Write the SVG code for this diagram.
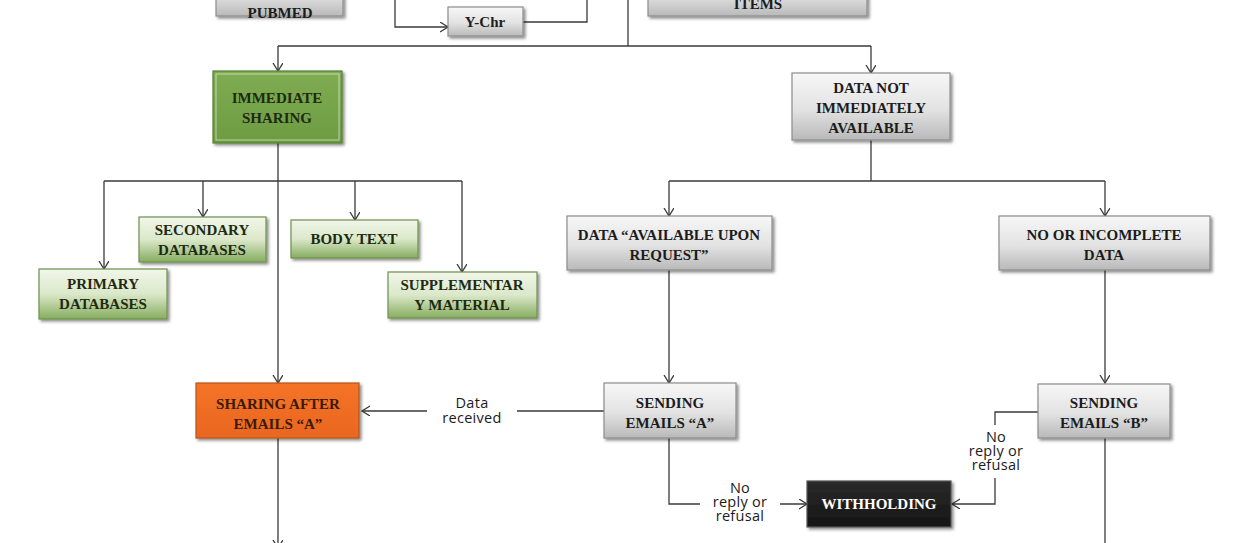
<svg xmlns="http://www.w3.org/2000/svg" width="1240" height="543" viewBox="0 0 1240 543">
<defs>
  <linearGradient id="gGray" x1="0" y1="0" x2="0" y2="1">
    <stop offset="0" stop-color="#f7f7f7"/>
    <stop offset="0.55" stop-color="#e2e2e2"/>
    <stop offset="1" stop-color="#b9b9b9"/>
  </linearGradient>
  <linearGradient id="gLightGreen" x1="0" y1="0" x2="0" y2="1">
    <stop offset="0" stop-color="#f1f6ea"/>
    <stop offset="0.5" stop-color="#dbe8ca"/>
    <stop offset="1" stop-color="#86ad5e"/>
  </linearGradient>
  <linearGradient id="gGreen" x1="0" y1="0" x2="0" y2="1">
    <stop offset="0" stop-color="#80ad52"/>
    <stop offset="1" stop-color="#6d9b42"/>
  </linearGradient>
  <linearGradient id="gOrange" x1="0" y1="0" x2="0" y2="1">
    <stop offset="0" stop-color="#f47428"/>
    <stop offset="1" stop-color="#ea6620"/>
  </linearGradient>
  <linearGradient id="gBlack" x1="0" y1="0" x2="0" y2="1">
    <stop offset="0" stop-color="#2a2a2a"/>
    <stop offset="1" stop-color="#151515"/>
  </linearGradient>
  <filter id="shadow" x="-10%" y="-10%" width="125%" height="130%">
    <feDropShadow dx="2" dy="2" stdDeviation="1.5" flood-color="#000" flood-opacity="0.45"/>
  </filter>
  <marker id="arrow" markerUnits="userSpaceOnUse" markerWidth="12" markerHeight="12" refX="8" refY="5" orient="auto">
    <path d="M0,0 L8,5 L0,10" fill="none" stroke="#3a3a3a" stroke-width="1.3"/>
  </marker>
</defs>
<style>
  .box { stroke-width: 1.2; filter: url(#shadow); }
  .gray { fill: url(#gGray); stroke: #8c8c8c; }
  .lgreen { fill: url(#gLightGreen); stroke: #6f8f4e; }
  .green { fill: url(#gGreen); stroke: #587f33; }
  .orange { fill: url(#gOrange); stroke: #b8541a; }
  .black { fill: url(#gBlack); stroke: #555555; }
  .inner { fill: none; stroke: #ffffff; stroke-opacity: 0.55; stroke-width: 1; }
  .t { font-family: "Liberation Serif", "Times New Roman", serif; font-weight: bold; font-size: 15px; fill: #1c1c1c; text-anchor: middle; }
  .tw { fill: #ffffff; }
  .tg { fill: #1e2a12; }
  .to { fill: #3b1a05; }
  .lbl { font-family: "Open Sans", "DejaVu Sans", sans-serif; font-size: 14.5px; fill: #1a1a1a; text-anchor: middle; letter-spacing: 0.3px; }
  .c { fill: none; stroke: #3a3a3a; stroke-width: 1.3; }
  .lblbg { fill: #ffffff; }
</style>

<g id="connectors">
  <path class="c" d="M395,0 V27 H448" marker-end="url(#arrow)"/>
  <path class="c" d="M523,22 H587 V0"/>
  <path class="c" d="M628,0 V46"/>
  <path class="c" d="M278,46 H871"/>
  <path class="c" d="M278,46 V71" marker-end="url(#arrow)"/>
  <path class="c" d="M871,46 V73" marker-end="url(#arrow)"/>
  <path class="c" d="M278,143 V383" marker-end="url(#arrow)"/>
  <path class="c" d="M104,181 H462"/>
  <path class="c" d="M104,181 V269" marker-end="url(#arrow)"/>
  <path class="c" d="M203,181 V217" marker-end="url(#arrow)"/>
  <path class="c" d="M355,181 V220" marker-end="url(#arrow)"/>
  <path class="c" d="M462,181 V272" marker-end="url(#arrow)"/>
  <path class="c" d="M871,140 V181"/>
  <path class="c" d="M669,181 H1105"/>
  <path class="c" d="M669,181 V216" marker-end="url(#arrow)"/>
  <path class="c" d="M1105,181 V216" marker-end="url(#arrow)"/>
  <path class="c" d="M669,270 V383" marker-end="url(#arrow)"/>
  <path class="c" d="M1105,270 V383" marker-end="url(#arrow)"/>
  <path class="c" d="M604,411 H362" marker-end="url(#arrow)"/>
  <path class="c" d="M669,438 V504 H807" marker-end="url(#arrow)"/>
  <path class="c" d="M1038,412 H995 V504 H952" marker-end="url(#arrow)"/>
  <path class="c" d="M278,438 V548" marker-end="url(#arrow)"/>
  <path class="c" d="M1105,438 V543"/>
  <g id="label-data-received">
    <rect class="lblbg" x="427" y="390" width="90" height="42"/>
    <text class="lbl" x="472" y="408">Data</text>
    <text class="lbl" x="472" y="423">received</text>
  </g>
  <g id="label-no-reply-a">
    <rect class="lblbg" x="700" y="476" width="80" height="52"/>
    <text class="lbl" x="740" y="493">No</text>
    <text class="lbl" x="740" y="507">reply or</text>
    <text class="lbl" x="740" y="521">refusal</text>
  </g>
  <g id="label-no-reply-b">
    <rect class="lblbg" x="957" y="425" width="78" height="53"/>
    <text class="lbl" x="996" y="442">No</text>
    <text class="lbl" x="996" y="456">reply or</text>
    <text class="lbl" x="996" y="470">refusal</text>
  </g>
</g>

<g id="node-pubmed">
  <rect class="box gray" x="216" y="-30" width="127" height="46"/>
  <text class="t" x="280" y="18">PUBMED</text>
</g>
<g id="node-ychr">
  <rect class="box gray" x="448" y="7" width="75" height="29"/>
  <text class="t" x="485" y="27">Y-Chr</text>
</g>
<g id="node-items">
  <rect class="box gray" x="648" y="-30" width="219" height="46"/>
  <text class="t" x="758" y="9">ITEMS</text>
</g>
<g id="node-immediate-sharing">
  <rect class="box green" x="213" y="71" width="129" height="72"/>
  <rect class="inner" x="216" y="74" width="123" height="66" stroke-opacity="0.25"/>
  <text class="t tg" x="277" y="103">IMMEDIATE</text>
  <text class="t tg" x="277" y="123">SHARING</text>
</g>
<g id="node-data-not-available">
  <rect class="box gray" x="792" y="73" width="158" height="67"/>
  <text class="t" x="871" y="93">DATA NOT</text>
  <text class="t" x="871" y="113">IMMEDIATELY</text>
  <text class="t" x="871" y="133">AVAILABLE</text>
</g>
<g id="node-secondary-databases">
  <rect class="box lgreen" x="139" y="217" width="127" height="45"/>
  <text class="t tg" x="202" y="235">SECONDARY</text>
  <text class="t tg" x="202" y="255">DATABASES</text>
</g>
<g id="node-primary-databases">
  <rect class="box lgreen" x="39" y="269" width="128" height="50"/>
  <text class="t tg" x="103" y="289">PRIMARY</text>
  <text class="t tg" x="103" y="309">DATABASES</text>
</g>
<g id="node-body-text">
  <rect class="box lgreen" x="291" y="220" width="127" height="38"/>
  <text class="t tg" x="354" y="244">BODY TEXT</text>
</g>
<g id="node-supplementary-material">
  <rect class="box lgreen" x="388" y="272" width="149" height="46"/>
  <text class="t tg" x="462" y="290">SUPPLEMENTAR</text>
  <text class="t tg" x="462" y="310">Y MATERIAL</text>
</g>
<g id="node-available-upon-request">
  <rect class="box gray" x="567" y="216" width="205" height="54"/>
  <text class="t" x="669" y="240">DATA “AVAILABLE UPON</text>
  <text class="t" x="669" y="260">REQUEST”</text>
</g>
<g id="node-no-incomplete-data">
  <rect class="box gray" x="999" y="216" width="211" height="54"/>
  <text class="t" x="1104" y="240">NO OR INCOMPLETE</text>
  <text class="t" x="1104" y="260">DATA</text>
</g>
<g id="node-sharing-after-emails-a">
  <rect class="box orange" x="196" y="383" width="163" height="55"/>
  <text class="t to" x="278" y="409">SHARING AFTER</text>
  <text class="t to" x="278" y="429">EMAILS “A”</text>
</g>
<g id="node-sending-emails-a">
  <rect class="box gray" x="604" y="383" width="132" height="55"/>
  <text class="t" x="670" y="408">SENDING</text>
  <text class="t" x="670" y="428">EMAILS “A”</text>
</g>
<g id="node-sending-emails-b">
  <rect class="box gray" x="1038" y="384" width="132" height="54"/>
  <text class="t" x="1104" y="408">SENDING</text>
  <text class="t" x="1104" y="428">EMAILS “B”</text>
</g>
<g id="node-withholding">
  <rect class="box black" x="807" y="481" width="144" height="46"/>
  <text class="t tw" x="879" y="509">WITHHOLDING</text>
</g>
</svg>
